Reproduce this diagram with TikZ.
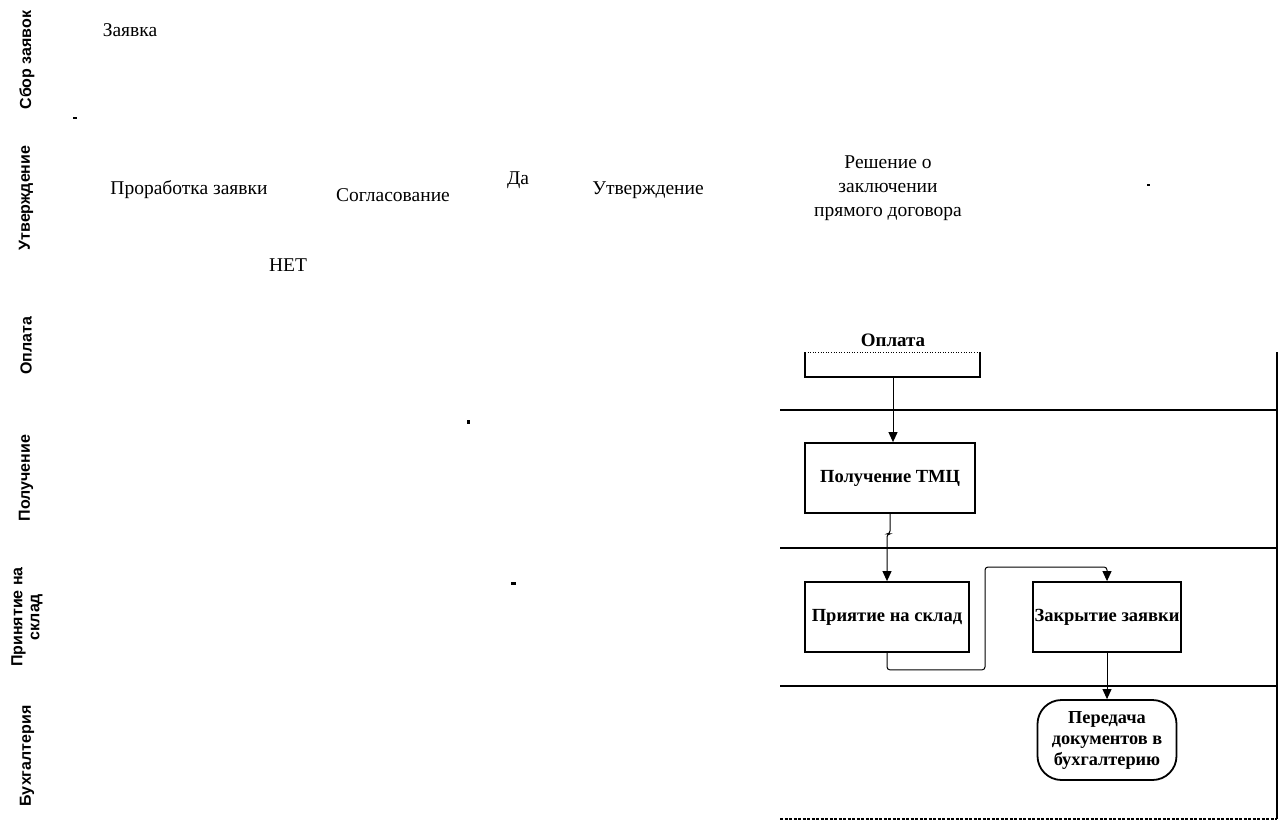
\documentclass[tikz,border=0pt]{standalone}
\usepackage{fontspec}
\setmainfont{Liberation Serif}
\setsansfont{Liberation Sans}
\usetikzlibrary{arrows.meta}
\begin{document}
\begin{tikzpicture}[x=1pt,y=-1pt,
  lane/.style={font=\sffamily\bfseries\fontsize{16}{17}\selectfont, rotate=90, align=center, inner sep=0pt},
  lbl/.style={font=\fontsize{19.5}{22}\selectfont, align=center, inner sep=0pt},
  proc/.style={draw, line width=1.8pt, fill=white, inner sep=0pt, font=\bfseries\fontsize{18.5}{21}\selectfont},
  term/.style={draw, line width=1.8pt, rounded corners=24pt, fill=white, inner sep=0pt, align=center, font=\bfseries\fontsize{18.3}{21}\selectfont},
  sep/.style={line width=1.5pt},
  flow/.style={line width=1pt, -{Triangle[length=10pt,width=9pt]}, rounded corners=3pt},
  speck/.style={fill=black}
]
\useasboundingbox (0,0) rectangle (1281,824);
% lane labels
\node[lane] (l1) at (27,60) {Сбор заявок};
\node[lane] (l2) at (26,198) {Утверждение};
\node[lane] (l3) at (26,346) {Оплата};
\node[lane] (l4) at (26,478) {Получение};
\node[lane] (l5) at (27,617) {Принятие на\\склад};
\node[lane] (l6) at (27,756) {Бухгалтерия};
% free labels
\node[lbl] (t1) at (130,30) {Заявка};
\node[lbl] (t2) at (189,190) {Проработка заявки};
\node[lbl] (t3) at (393,195) {Согласование};
\node[lbl] (t4) at (288,265) {НЕТ};
\node[lbl] (t5) at (518,180) {Да};
\node[lbl] (t6) at (648,190) {Утверждение};
\node[lbl, font=\fontsize{19.5}{24}\selectfont] (t7) at (888,188) {Решение о\\заключении\\прямого договора};
% separators
\coordinate (s1a) at (780,410); \coordinate (s1b) at (1277,410);
\coordinate (s2a) at (780,548); \coordinate (s2b) at (1277,548);
\coordinate (s3a) at (780,686); \coordinate (s3b) at (1277,686);
\coordinate (s4a) at (780,819); \coordinate (s4b) at (1277,819);
\coordinate (va) at (1277,352);
\draw[sep] (s1a) -- (s1b);
\draw[sep] (s2a) -- (s2b);
\draw[sep] (s3a) -- (s3b);
\draw[line width=1.3pt, dash pattern=on 3pt off 1.5pt] (s4a) -- (s4b);
\draw[line width=1.3pt] (va) -- (s4b);
% Оплата box (open top)
\node[lbl, font=\bfseries\fontsize{19}{21}\selectfont] (opl) at (893,340) {Оплата};
\coordinate (oA) at (805,352); \coordinate (oB) at (980,352);
\coordinate (oC) at (980,377); \coordinate (oD) at (805,377);
\coordinate (oBot) at (893,377);
\draw[line width=1.8pt] (oA) -- (oD) -- (oC) -- (oB);
\draw[line width=0.6pt, dotted] (oA) -- (oB);
% process boxes
\node[proc, minimum width=170pt, minimum height=70pt] (ptmc) at (890,478) {Получение ТМЦ};
\node[proc, minimum width=164pt, minimum height=70pt] (prin) at (887,617) {Приятие на склад};
\node[proc, minimum width=148pt, minimum height=70pt] (zakr) at (1107,617) {Закрытие заявки};
\node[term, minimum width=139pt, minimum height=80pt] (pered) at (1107,740) {Передача\\документов в\\бухгалтерию};
% connectors
\draw[flow] (oBot) -- (ptmc.north -| oBot);
\draw[flow] (ptmc.south) -- ++(0,20) -| (prin.north);
\draw[flow] (prin.south) -- ++(0,17) -| (985,567) -| (zakr.north);
\draw[flow] (zakr.south) -- (pered.north);
% specks
\fill[speck] (73,117) rectangle (77,119);
\fill[speck] (467,420) rectangle (470,424);
\fill[speck] (511,582) rectangle (516,585);
\fill[speck] (1147,184) rectangle (1150,186);
\end{tikzpicture}
\end{document}
